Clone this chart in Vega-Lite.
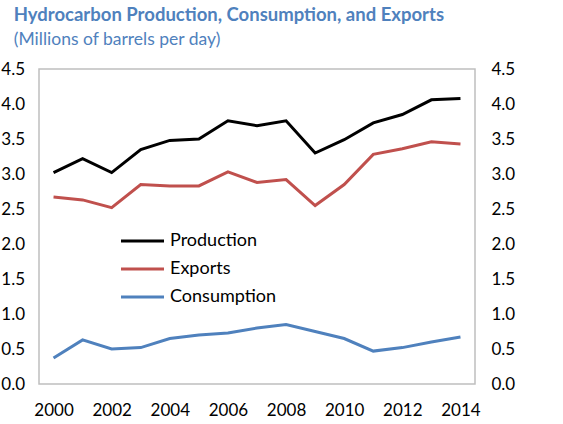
{
  "$schema": "https://vega.github.io/schema/vega-lite/v6.json",
  "width": 563,
  "height": 424,
  "autosize": {"type": "fit", "contains": "padding"},
  "padding": {"top": 6, "left": 0, "right": 48, "bottom": 6},
  "title": {
    "text": "Hydrocarbon Production, Consumption, and Exports",
    "subtitle": "(Millions of barrels per day)",
    "anchor": "start",
    "frame": "bounds",
    "color": "#4F81BD",
    "subtitleColor": "#4F81BD",
    "font": "Lato",
    "subtitleFont": "Lato",
    "fontSize": 18.5,
    "fontWeight": "bold",
    "subtitleFontSize": 17.5,
    "subtitlePadding": 6,
    "offset": 12,
    "dx": 13
  },
  "config": {
    "view": {"stroke": "#BFBFBF", "strokeWidth": 1.5},
    "font": "Lato",
    "axis": {"grid": false, "domain": false, "ticks": false, "labelFont": "Lato", "labelFontSize": 17, "labelColor": "#000000", "title": null}
  },
  "data": {
    "values": [
      {"year": 2000, "series": "Production", "value": 3.02},
      {"year": 2001, "series": "Production", "value": 3.22},
      {"year": 2002, "series": "Production", "value": 3.02},
      {"year": 2003, "series": "Production", "value": 3.35},
      {"year": 2004, "series": "Production", "value": 3.48},
      {"year": 2005, "series": "Production", "value": 3.50},
      {"year": 2006, "series": "Production", "value": 3.76},
      {"year": 2007, "series": "Production", "value": 3.69},
      {"year": 2008, "series": "Production", "value": 3.76},
      {"year": 2009, "series": "Production", "value": 3.30},
      {"year": 2010, "series": "Production", "value": 3.49},
      {"year": 2011, "series": "Production", "value": 3.73},
      {"year": 2012, "series": "Production", "value": 3.85},
      {"year": 2013, "series": "Production", "value": 4.06},
      {"year": 2014, "series": "Production", "value": 4.08},
      {"year": 2000, "series": "Exports", "value": 2.67},
      {"year": 2001, "series": "Exports", "value": 2.63},
      {"year": 2002, "series": "Exports", "value": 2.52},
      {"year": 2003, "series": "Exports", "value": 2.85},
      {"year": 2004, "series": "Exports", "value": 2.83},
      {"year": 2005, "series": "Exports", "value": 2.83},
      {"year": 2006, "series": "Exports", "value": 3.03},
      {"year": 2007, "series": "Exports", "value": 2.88},
      {"year": 2008, "series": "Exports", "value": 2.92},
      {"year": 2009, "series": "Exports", "value": 2.55},
      {"year": 2010, "series": "Exports", "value": 2.85},
      {"year": 2011, "series": "Exports", "value": 3.28},
      {"year": 2012, "series": "Exports", "value": 3.36},
      {"year": 2013, "series": "Exports", "value": 3.46},
      {"year": 2014, "series": "Exports", "value": 3.43},
      {"year": 2000, "series": "Consumption", "value": 0.37},
      {"year": 2001, "series": "Consumption", "value": 0.63},
      {"year": 2002, "series": "Consumption", "value": 0.50},
      {"year": 2003, "series": "Consumption", "value": 0.52},
      {"year": 2004, "series": "Consumption", "value": 0.65},
      {"year": 2005, "series": "Consumption", "value": 0.70},
      {"year": 2006, "series": "Consumption", "value": 0.73},
      {"year": 2007, "series": "Consumption", "value": 0.80},
      {"year": 2008, "series": "Consumption", "value": 0.85},
      {"year": 2009, "series": "Consumption", "value": 0.75},
      {"year": 2010, "series": "Consumption", "value": 0.65},
      {"year": 2011, "series": "Consumption", "value": 0.47},
      {"year": 2012, "series": "Consumption", "value": 0.52},
      {"year": 2013, "series": "Consumption", "value": 0.60},
      {"year": 2014, "series": "Consumption", "value": 0.67}
    ]
  },
  "encoding": {
    "x": {
      "field": "year",
      "type": "quantitative",
      "scale": {"domain": [1999.5, 2014.5], "nice": false, "zero": false},
      "axis": {"values": [2000, 2002, 2004, 2006, 2008, 2010, 2012, 2014], "format": "d", "labelPadding": 18, "labelFlush": false}
    }
  },
  "layer": [
    {
      "mark": {"type": "line", "strokeWidth": 3},
      "encoding": {
        "y": {
          "field": "value",
          "type": "quantitative",
          "scale": {"domain": [0, 4.5], "nice": false},
          "axis": {"orient": "left", "values": [0, 0.5, 1, 1.5, 2, 2.5, 3, 3.5, 4, 4.5], "format": ".1f", "labelPadding": 14.5, "labelFlush": false}
        },
        "color": {
          "field": "series",
          "type": "nominal",
          "sort": ["Production", "Exports", "Consumption"],
          "scale": {"domain": ["Production", "Exports", "Consumption"], "range": ["#000000", "#C0504D", "#4F81BD"]},
          "legend": {
            "title": null,
            "orient": "none",
            "legendX": 80,
            "legendY": 162,
            "symbolType": "stroke",
            "symbolSize": 1850,
            "symbolStrokeWidth": 3,
            "labelFont": "Lato",
            "labelFontSize": 18,
            "labelColor": "#000000",
            "clipHeight": 20,
            "rowPadding": 8,
            "labelOffset": 4
          }
        }
      }
    },
    {
      "mark": {"type": "line", "strokeOpacity": 0},
      "encoding": {
        "y": {
          "field": "value",
          "type": "quantitative",
          "scale": {"domain": [0, 4.5], "nice": false},
          "axis": {"orient": "right", "values": [0, 0.5, 1, 1.5, 2, 2.5, 3, 3.5, 4, 4.5], "format": ".1f", "labelPadding": 16, "labelFlush": false}
        },
        "detail": {"field": "series"}
      }
    }
  ],
  "resolve": {"scale": {"y": "independent"}}
}
